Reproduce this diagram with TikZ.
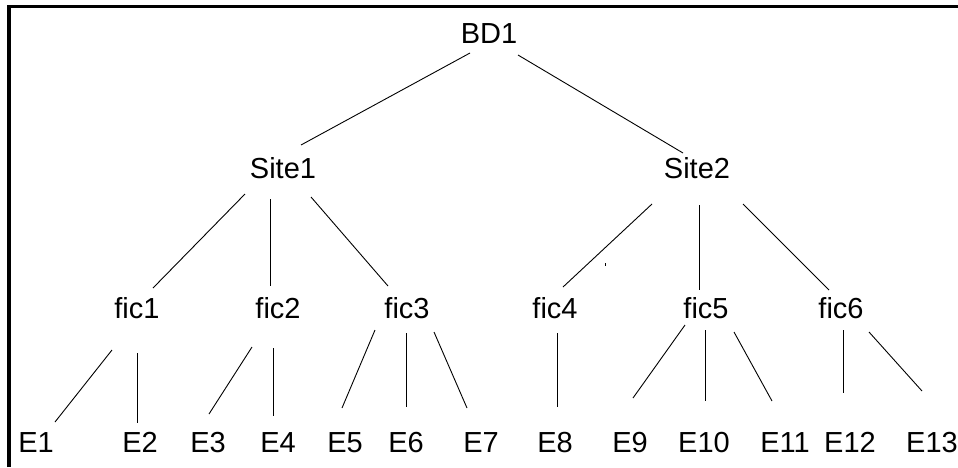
\documentclass[tikz,border=0pt]{standalone}
\usepackage{fontspec}
\setmainfont{Liberation Sans}
\begin{document}
\begin{tikzpicture}[x=1pt,y=-1pt,
  lbl/.style={anchor=base,inner sep=0pt,font=\fontsize{29}{33}\selectfont},
  edge/.style={line width=0.9pt},
  frame/.style={line width=3.2pt}]
\useasboundingbox (0,0) rectangle (958,467);
% open frame along the top and left
\draw[frame] (9,467) -- (9,6.5) -- (958,6.5);

% root and sites
\node[lbl] (BD1)   at (489,43)  {BD1};
\node[lbl] (Site1) at (283,178) {Site1};
\node[lbl] (Site2) at (697,178) {Site2};
% files
\node[lbl] (fic1) at (137,318) {fic1};
\node[lbl] (fic2) at (278,318) {fic2};
\node[lbl] (fic3) at (407,318) {fic3};
\node[lbl] (fic4) at (555,318) {fic4};
\node[lbl] (fic5) at (706,318) {fic5};
\node[lbl] (fic6) at (841,318) {fic6};
% records
\node[lbl] (E1)  at (36,452)  {E1};
\node[lbl] (E2)  at (140,452) {E2};
\node[lbl] (E3)  at (208,452) {E3};
\node[lbl] (E4)  at (278,452) {E4};
\node[lbl] (E5)  at (345,452) {E5};
\node[lbl] (E6)  at (406,452) {E6};
\node[lbl] (E7)  at (481,452) {E7};
\node[lbl] (E8)  at (555,452) {E8};
\node[lbl] (E9)  at (630,452) {E9};
\node[lbl] (E10) at (704,452) {E10};
\node[lbl] (E11) at (785,452) {E11};
\node[lbl] (E12) at (850,452) {E12};
\node[lbl] (E13) at (932,452) {E13};

% root to sites
\draw[edge] ([shift={(-19,10)}]BD1.base) -- ([shift={(18,-33)}]Site1.base);
\draw[edge] ([shift={(29,12)}]BD1.base) -- ([shift={(-14,-25)}]Site2.base);
% sites to files
\draw[edge] ([shift={(-38,16)}]Site1.base) -- ([shift={(16,-30)}]fic1.base);
\draw[edge] ([shift={(-13,21)}]Site1.base) -- ([shift={(-8,-32)}]fic2.base);
\draw[edge] ([shift={(28,19)}]Site1.base) -- ([shift={(-19,-32)}]fic3.base);
\draw[edge] ([shift={(-45,26)}]Site2.base) -- ([shift={(8,-31)}]fic4.base);
\draw[edge] ([shift={(2,27)}]Site2.base) -- ([shift={(-7,-28)}]fic5.base);
\draw[edge] ([shift={(46,26)}]Site2.base) -- ([shift={(-12,-28)}]fic6.base);
% files to records
\draw[edge] ([shift={(-25,32)}]fic1.base) -- ([shift={(19,-30)}]E1.base);
\draw[edge] ([shift={(0,35)}]fic1.base) -- ([shift={(-3,-29)}]E2.base);
\draw[edge] ([shift={(-26,29)}]fic2.base) -- ([shift={(1,-38)}]E3.base);
\draw[edge] ([shift={(-5,30)}]fic2.base) -- ([shift={(-5,-36)}]E4.base);
\draw[edge] ([shift={(-32,12)}]fic3.base) -- ([shift={(-3,-44)}]E5.base);
\draw[edge] ([shift={(-1,15)}]fic3.base) -- ([shift={(0,-45)}]E6.base);
\draw[edge] ([shift={(27,14)}]fic3.base) -- ([shift={(-14,-44)}]E7.base);
\draw[edge] ([shift={(2,15)}]fic4.base) -- ([shift={(2,-45)}]E8.base);
\draw[edge] ([shift={(-21,7)}]fic5.base) -- ([shift={(3,-54)}]E9.base);
\draw[edge] ([shift={(-1,12)}]fic5.base) -- ([shift={(1,-51)}]E10.base);
\draw[edge] ([shift={(28,14)}]fic5.base) -- ([shift={(-13,-51)}]E11.base);
\draw[edge] ([shift={(2,12)}]fic6.base) -- ([shift={(-7,-59)}]E12.base);
\draw[edge] ([shift={(28,14)}]fic6.base) -- ([shift={(-10,-61)}]E13.base);

% small stray tick between the sites row and the files row
\coordinate (tick) at (605,263);
\draw[line width=0.8pt] (tick) -- ++(0,3);
\end{tikzpicture}
\end{document}
